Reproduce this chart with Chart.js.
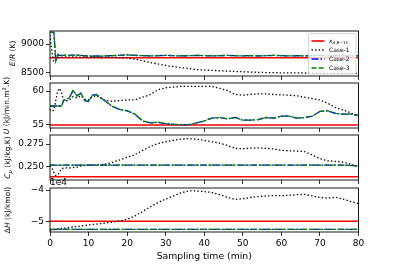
<!DOCTYPE html>
<html><head><meta charset="utf-8">
<script src="https://cdn.jsdelivr.net/npm/chart.js@4/dist/chart.umd.min.js"></script>
<style>
html,body{margin:0;padding:0;background:#fff;width:399px;height:266px;overflow:hidden;position:relative}
canvas{position:absolute;left:0}
</style></head><body>
<canvas id="c1" width="399" height="87" style="top:1px"></canvas>
<canvas id="c2" width="399" height="87" style="top:53px"></canvas>
<canvas id="c3" width="399" height="87" style="top:105px"></canvas>
<canvas id="c4" width="399" height="108" style="top:158px"></canvas>
<script>
// ---------------- data ----------------
const time = [0,0.5,1,1.5,2,2.5,3,3.5,4,5,6,7,8,9,10,11,12,13,14,16,18,20,22,24,26,28,30,32,34,36,38,40,42,44,46,48,50,52,54,56,58,60,62,64,66,68,70,72,74,76,78,80];
const seriesLabels = ['$x_{A,8-11}$','Case-1','Case-2','Case-3'];
const xTicks = [0,10,20,30,40,50,60,70,80];
const xTickLabels = ['0','10','20','30','40','50','60','70','80'];
const xTitle = 'Sampling time (min)';

// E/R (K)
const erTitle = '$E/R$ (K)';
const erTicks = [8500,9000];
const erTickLabels = ['8500','9000'];
const erRef = 8758;
const erCase1 = [9160,8850,8690,8720,8760,8765,8768,8770,8775,
 8770,8775,8770,8770,8765,8770,8765,8765,8760,8765,
 8765,8760,8755,8735,8705,8675,8648,8625,8600,8583,
 8568,8550,8540,8535,8528,8522,8515,8510,8505,8500,
 8495,8495,8490,8490,8490,8488,8486,8485,8485,8484,
 8482,8480,8480];
const erCase2 = [9207,9207,9207,8700,8815,8795,8800,8800,8805,
 8800,8805,8805,8800,8790,8795,8785,8790,8785,8790,
 8795,8800,8810,8800,8795,8790,8795,8800,8795,8790,
 8795,8800,8795,8790,8795,8800,8795,8790,8795,8790,
 8795,8800,8795,8790,8795,8790,8795,8800,8795,8790,
 8795,8790,8795];
const erCase3 = [9207,9207,9207,8700,8815,8795,8800,8800,8805,
 8800,8805,8805,8800,8790,8795,8785,8790,8785,8790,
 8795,8800,8810,8800,8795,8790,8795,8800,8795,8790,
 8795,8800,8795,8790,8795,8800,8795,8790,8795,8790,
 8795,8800,8795,8790,8795,8790,8795,8800,8795,8790,
 8795,8790,8795];

// U (kJ/min.m2.K)
const uTitle = '$U$ (kJ/min.m$^2$.K)';
const uTicks = [55,60];
const uTickLabels = ['55','60'];
const uRef = 55;
const uCase1 = [57.3,57.0,57.2,58.6,60.0,60.4,59.7,58.7,58.5,
 58.7,59.2,59.0,59.3,58.8,58.7,59.2,59.3,59.0,58.7,
 58.5,58.6,58.7,58.7,59.1,59.5,60.2,60.5,60.6,60.7,
 60.7,60.7,60.7,60.7,60.4,60.1,59.5,59.4,59.5,59.6,
 59.6,59.5,59.45,59.4,59.3,59.1,58.9,58.7,58.2,57.6,
 57.2,56.8,56.2];
const uCase2 = [57.8,57.8,57.8,57.8,57.8,57.8,57.8,58.6,58.7,
 59.0,60.1,59.3,59.7,58.6,58.5,59.4,59.5,59.1,58.7,
 57.8,57.3,57.1,56.6,55.6,55.3,55.4,55.2,55.1,55.0,
 55.05,55.3,55.6,56.0,56.1,55.9,56.1,55.7,55.7,55.8,
 56.1,56.0,56.3,56.3,56.0,56.1,56.3,57.0,57.1,56.7,
 56.6,56.6,56.4];
const uCase3 = [57.8,57.8,57.8,57.8,57.8,57.8,57.8,58.6,58.7,
 59.0,60.1,59.3,59.7,58.6,58.5,59.4,59.5,59.1,58.7,
 57.8,57.3,57.1,56.6,55.6,55.3,55.4,55.2,55.1,55.0,
 55.05,55.3,55.6,56.0,56.1,55.9,56.1,55.7,55.7,55.8,
 56.1,56.0,56.3,56.3,56.0,56.1,56.3,57.0,57.1,56.7,
 56.6,56.6,56.4];

// Cp (kJ/kg.K)
const cpTitle = '$C_p$ (kJ/kg.K)';
const cpTicks = [0.250,0.275];
const cpTickLabels = ['0.250','0.275'];
const cpRef = 0.2381;
const cpCase1 = [0.2507,0.2480,0.2430,0.2395,0.2400,0.2440,0.2470,0.2478,0.2482,
 0.2480,0.2485,0.2490,0.2505,0.2510,0.2515,0.2512,0.2515,0.2518,0.2520,
 0.2540,0.2570,0.2600,0.2630,0.2678,0.2722,0.2755,0.2776,0.2792,0.2805,
 0.2812,0.2805,0.2790,0.2775,0.2760,0.2735,0.2700,0.2697,0.2703,0.2707,
 0.2702,0.2695,0.2680,0.2673,0.2672,0.2665,0.2625,0.2585,0.2562,0.2555,
 0.2545,0.2525,0.2495];
const cpCase2 = [0.2512,0.2512,0.2512,0.2512,0.2512,0.2512,0.2512,0.2512,0.2512,
 0.2512,0.2512,0.2512,0.2512,0.2512,0.2512,0.2512,0.2512,0.2512,0.2512,
 0.2512,0.2512,0.2512,0.2512,0.2512,0.2512,0.2512,0.2512,0.2512,0.2512,
 0.2512,0.2512,0.2512,0.2512,0.2512,0.2512,0.2512,0.2512,0.2512,0.2512,
 0.2512,0.2512,0.2512,0.2512,0.2512,0.2512,0.2512,0.2512,0.2512,0.2512,
 0.2512,0.2510,0.2502];
const cpCase3 = [0.2512,0.2512,0.2512,0.2512,0.2512,0.2512,0.2512,0.2512,0.2512,
 0.2512,0.2512,0.2512,0.2512,0.2512,0.2512,0.2512,0.2512,0.2512,0.2512,
 0.2512,0.2512,0.2512,0.2512,0.2512,0.2512,0.2512,0.2512,0.2512,0.2512,
 0.2512,0.2512,0.2512,0.2512,0.2512,0.2512,0.2512,0.2512,0.2512,0.2512,
 0.2512,0.2512,0.2512,0.2512,0.2512,0.2512,0.2512,0.2512,0.2512,0.2512,
 0.2512,0.2510,0.2502];

// dH (kJ/kmol)
const dhTitle = '$\\Delta H$ (kJ/kmol)';
const dhTicks = [-50000,-40000];
const dhTickLabels = ['\u22125','\u22124'];
const dhOffsetText = '1e4';
const dhRef = -50000;
const dhCase1 = [-53000,-52850,-52700,-52550,-52400,-52300,-52250,-52200,-52150,
 -52000,-51800,-51650,-51500,-51350,-51150,-51000,-50900,-50750,-50600,
 -50300,-49900,-49400,-48300,-46900,-45400,-44000,-42900,-41900,-40900,
 -40300,-40300,-40500,-40800,-41500,-42300,-43000,-42800,-42400,-42100,
 -41900,-41800,-41800,-41700,-41500,-41400,-41900,-42400,-42600,-42300,
 -42900,-43700,-44300];
const dhCase2 = [-52560,-52560,-52560,-52560,-52560,-52560,-52560,-52560,-52560,
 -52560,-52560,-52560,-52560,-52560,-52560,-52560,-52560,-52560,-52560,
 -52560,-52560,-52560,-52560,-52560,-52560,-52560,-52560,-52560,-52560,
 -52560,-52560,-52560,-52560,-52560,-52560,-52560,-52560,-52560,-52560,
 -52560,-52560,-52560,-52560,-52560,-52560,-52560,-52560,-52560,-52560,
 -52560,-52560,-52560];
const dhCase3 = dhCase2.slice();

// ---------------- styling / helpers ----------------
const FAM = '"DejaVu Sans", sans-serif';
Chart.defaults.font.family = FAM;
const LW = 1.3;
const lineStyles = [
  {color:'#ff0000', dash:[], width:1.6},
  {color:'#000000', dash:[1.4,2.2], width:LW},
  {color:'#0000ff', dash:[7,2,1.5,2], width:LW},
  {color:'#008000', dash:[5,2.2], width:LW}
];

function parseMath(s){
  const out=[]; const segs=s.split('$');
  segs.forEach((seg,i)=>{
    if(i%2===0){ if(seg) out.push({t:seg,it:false,pos:0}); return; }
    seg = seg.replace(/\\Delta\s*/g,'\u0394').replace(/-/g,'\u2212');
    let j=0;
    while(j<seg.length){
      const c=seg[j];
      if(c==='_'||c==='^'){
        let txt;
        if(seg[j+1]==='{'){const k=seg.indexOf('}',j); txt=seg.slice(j+2,k); j=k+1;}
        else {txt=seg[j+1]; j+=2;}
        for(const ch of txt) out.push({t:ch,it:/[A-Za-z]/.test(ch),pos:c==='_'?1:-1});
      } else { out.push({t:c,it:/[A-Za-z]/.test(c),pos:0}); j++; }
    }
  });
  return out;
}
function richFont(p,size){
  const sz = p.pos ? size*0.7 : size;
  return (p.it?'italic ':'')+sz+'px '+FAM;
}
function richWidth(ctx,parts,size){
  let w=0; for(const p of parts){ctx.font=richFont(p,size); w+=ctx.measureText(p.t).width;} return w;
}
function drawRich(ctx,parts,x,y,size){ // y = baseline
  let cx=x;
  for(const p of parts){
    ctx.font=richFont(p,size);
    const dy = p.pos===1 ? size*0.22 : (p.pos===-1 ? -size*0.38 : 0);
    ctx.fillText(p.t,cx,y+dy);
    cx+=ctx.measureText(p.t).width;
  }
  return cx;
}

const framePlugin = {
  id:'mplFrame',
  afterDatasetsDraw(chart){
    const a=chart.chartArea, ctx=chart.ctx;
    ctx.save(); ctx.strokeStyle='#000'; ctx.lineWidth=0.9;
    ctx.strokeRect(a.left,a.top,a.right-a.left,a.bottom-a.top);
    ctx.restore();
  }
};
const yTitlePlugin = {
  id:'mplYTitle',
  afterDraw(chart,args,opts){
    if(!opts.text) return;
    const a=chart.chartArea, ctx=chart.ctx;
    const parts=parseMath(opts.text), size=opts.size;
    ctx.save();
    ctx.fillStyle='#000'; ctx.textBaseline='alphabetic'; ctx.textAlign='left';
    const w=richWidth(ctx,parts,size);
    ctx.translate(opts.x,(a.top+a.bottom)/2);
    ctx.rotate(-Math.PI/2);
    drawRich(ctx,parts,-w/2,size*0.36,size);
    ctx.restore();
  }
};
const offsetPlugin = {
  id:'mplOffset',
  afterDraw(chart,args,opts){
    if(!opts.text) return;
    const a=chart.chartArea, ctx=chart.ctx;
    ctx.save(); ctx.fillStyle='#000'; ctx.font='9px '+FAM;
    ctx.textAlign='left'; ctx.textBaseline='bottom';
    ctx.fillText(opts.text,a.left,a.top-0.5);
    ctx.restore();
  }
};
const legendPlugin = {
  id:'mplLegend',
  afterDraw(chart,args,opts){
    if(!opts.show) return;
    const a=chart.chartArea, ctx=chart.ctx;
    const size=6, w=47.5, h=40.5;
    const x0=a.right-2.5-w, y0=a.top+2.5;
    ctx.save();
    ctx.beginPath();
    if(ctx.roundRect) ctx.roundRect(x0,y0,w,h,2); else ctx.rect(x0,y0,w,h);
    ctx.fillStyle='rgba(255,255,255,0.8)'; ctx.fill();
    ctx.strokeStyle='#cccccc'; ctx.lineWidth=0.8; ctx.stroke();
    chart.data.datasets.forEach((ds,i)=>{
      const yc=y0+7.5+i*9;
      const st=lineStyles[i];
      ctx.beginPath(); ctx.setLineDash(st.dash); ctx.strokeStyle=st.color; ctx.lineWidth=st.width;
      ctx.moveTo(x0+3,yc); ctx.lineTo(x0+16,yc); ctx.stroke();
      ctx.setLineDash([]);
      ctx.fillStyle='#000'; ctx.textBaseline='alphabetic'; ctx.textAlign='left';
      drawRich(ctx,parseMath(ds.label),x0+20.5,yc+size*0.36,size);
    });
    ctx.restore();
  }
};

function pts(vals){ return time.map((t,i)=>({x:t,y:vals[i]})); }

const panels = [
  {id:'c1', min:8435, max:9232, ticks:erTicks, labels:erTickLabels, title:erTitle, titleX:12, ref:erRef, d:[erCase1,erCase2,erCase3], extra:12, legend:true},
  {id:'c2', min:54.55, max:61.2, ticks:uTicks, labels:uTickLabels, title:uTitle, titleX:6.5, ref:uRef, d:[uCase1,uCase2,uCase3], extra:12},
  {id:'c3', min:0.2345, max:0.2852, ticks:cpTicks, labels:cpTickLabels, title:cpTitle, titleX:7.5, ref:cpRef, d:[cpCase1,cpCase2,cpCase3], extra:12},
  {id:'c4', min:-53420, max:-39360, ticks:dhTicks, labels:dhTickLabels, title:dhTitle, titleX:7, ref:dhRef, d:[dhCase1,dhCase2,dhCase3], extra:34, last:true, offset:dhOffsetText}
];

panels.forEach(p=>{
  const refPts=[{x:time[0],y:p.ref},{x:time[time.length-1],y:p.ref}];
  const dsets=[refPts,pts(p.d[0]),pts(p.d[1]),pts(p.d[2])].map((data,i)=>({
    label:seriesLabels[i], data, order:3-i,
    borderColor:lineStyles[i].color, borderWidth:lineStyles[i].width,
    borderDash:lineStyles[i].dash, pointRadius:0, tension:0, fill:false,
    borderCapStyle:'butt'
  }));
  const gridOpt={display:true,drawOnChartArea:false,drawTicks:true,tickLength:4,color:'#000',tickWidth:0.8};
  new Chart(document.getElementById(p.id),{
    type:'line',
    data:{datasets:dsets},
    plugins:[framePlugin,yTitlePlugin,offsetPlugin,legendPlugin],
    options:{
      responsive:false, animation:false, devicePixelRatio:1,
      layout:{padding:{top:30,left:0,right:40.5,bottom:0}},
      plugins:{
        legend:{display:false}, tooltip:{enabled:false},
        mplYTitle:{text:p.title,x:p.titleX,size:7.5},
        mplOffset:{text:p.offset||''},
        mplLegend:{show:!!p.legend}
      },
      scales:{
        x:{type:'linear',min:0,max:80,
          afterBuildTicks:s=>{s.ticks=xTicks.map(v=>({value:v}));},
          grid:gridOpt, border:{display:false},
          ticks:{display:!!p.last,font:{size:9},color:'#000',padding:2,maxRotation:0,autoSkip:false,
            callback:(v,i)=>xTickLabels[i]},
          title:{display:!!p.last,text:xTitle,color:'#000',font:{size:9.3},padding:{top:0,bottom:4}},
          afterFit:s=>{s.height=p.extra;}
        },
        y:{type:'linear',min:p.min,max:p.max,
          afterBuildTicks:s=>{s.ticks=p.ticks.map(v=>({value:v}));},
          grid:gridOpt, border:{display:false},
          ticks:{font:{size:9},color:'#000',padding:2,callback:(v,i)=>p.labels[i]},
          afterFit:s=>{s.width=50;}
        }
      }
    }
  });
});
</script>
</body></html>
